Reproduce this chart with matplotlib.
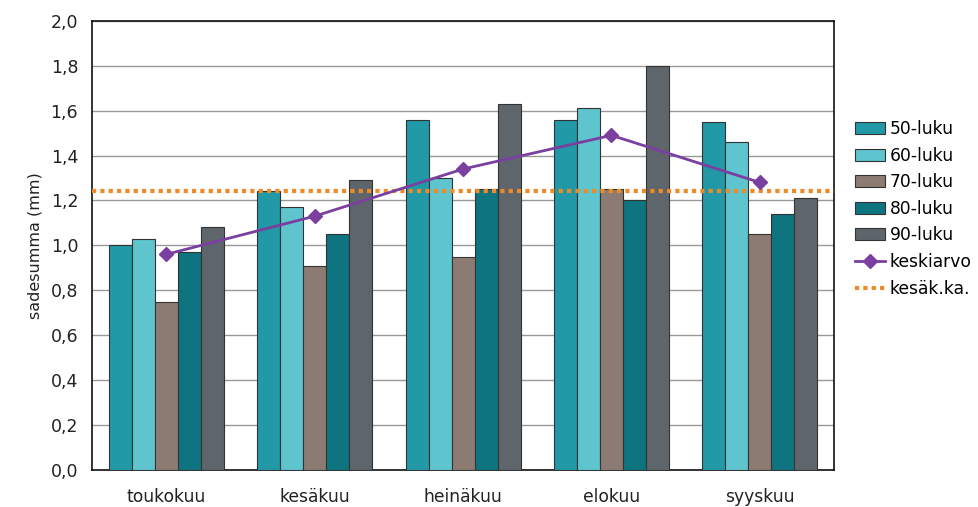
import numpy as np
import matplotlib
matplotlib.use("Agg")
import matplotlib.pyplot as plt

# kuukausittaiset sadesummat vuosikymmenittäin (luettu kuvasta)
months = ["toukokuu", "kesäkuu", "heinäkuu", "elokuu", "syyskuu"]
decades = ["50-luku", "60-luku", "70-luku", "80-luku", "90-luku"]
v50 = [1.00, 1.24, 1.56, 1.56, 1.55]
v60 = [1.03, 1.17, 1.30, 1.61, 1.46]
v70 = [0.75, 0.91, 0.95, 1.25, 1.05]
v80 = [0.97, 1.05, 1.25, 1.20, 1.14]
v90 = [1.08, 1.29, 1.63, 1.80, 1.21]
keskiarvo = [0.96, 1.13, 1.34, 1.49, 1.28]
kesak_ka = 1.24
yticks = [0.0, 0.2, 0.4, 0.6, 0.8, 1.0, 1.2, 1.4, 1.6, 1.8, 2.0]

colors = ["#2199a6", "#5ec4ce", "#8c7b72", "#0d7480", "#5e666c"]

plt.rcParams['font.family'] = ['DejaVu Sans']

fig = plt.figure(figsize=(9.79, 5.07), dpi=100)
ax = fig.add_axes([0.094, 0.073, 0.758, 0.886])

x = np.arange(len(months))
w = 0.155
series = [v50, v60, v70, v80, v90]
for i, (vals, lab, c) in enumerate(zip(series, decades, colors)):
    ax.bar(x + (i - 2) * w, vals, width=w, color=c, edgecolor="#333333",
           linewidth=0.8, label=lab, zorder=3)

ax.plot(x, keskiarvo, color="#7b3fa0", lw=2, marker="D", markersize=7,
        label="keskiarvo", zorder=5)
ax.axhline(kesak_ka, color="#f08a24", lw=3, linestyle=(0, (1, 1)),
           label="kesäk.ka.", zorder=4)

ax.set_xlim(-0.5, len(months) - 0.5)
ax.set_ylim(0, 2.0)
ax.set_yticks(yticks)
ax.set_yticklabels([f"{t:.1f}".replace(".", ",") for t in yticks])
ax.set_xticks(x)
ax.set_xticklabels(months)
ax.tick_params(axis="y", length=0, pad=10, labelsize=12.5, colors="#222222")
ax.tick_params(axis="x", length=0, pad=13, labelsize=12.3, colors="#222222")
ax.yaxis.grid(True, color="#999999", lw=1, zorder=0)
ax.set_axisbelow(True)
for s in ax.spines.values():
    s.set_color("#111111")
    s.set_linewidth(1.2)
ax.set_ylabel("sadesumma (mm)", fontsize=11.5, color="#222222", labelpad=6)

handles, labels = ax.get_legend_handles_labels()
order = [2, 3, 4, 5, 6, 0, 1]
fig.legend([handles[i] for i in order], [labels[i] for i in order],
           loc="center left", bbox_to_anchor=(0.873, 0.588), frameon=False,
           fontsize=12.3, handlelength=1.75, handletextpad=0.3,
           labelspacing=0.5, borderpad=0, borderaxespad=0)

fig.savefig("out.png", dpi=100)
